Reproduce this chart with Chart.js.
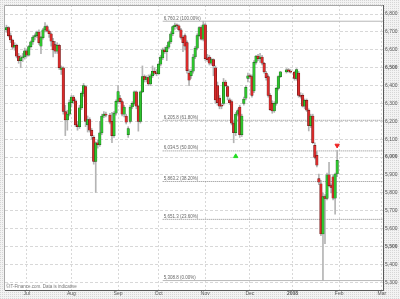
<!DOCTYPE html>
<html>
<head>
<meta charset="utf-8">
<script src="https://cdn.jsdelivr.net/npm/chart.js@4.4.0/dist/chart.umd.min.js"></script>
<style>
  html, body { margin: 0; padding: 0; background: #fff; }
</style>
</head>
<body>
<canvas id="chart" width="400" height="299"></canvas>
<script>
// daily candles, 18 Jun 2007 - 31 Jan 2008
const dates = [
  "2007-06-18","2007-06-19","2007-06-20","2007-06-21","2007-06-22","2007-06-25","2007-06-26","2007-06-27","2007-06-28","2007-06-29",
  "2007-07-02","2007-07-03","2007-07-04","2007-07-05","2007-07-06","2007-07-09","2007-07-10","2007-07-11","2007-07-12","2007-07-13",
  "2007-07-16","2007-07-17","2007-07-18","2007-07-19","2007-07-20","2007-07-23","2007-07-24","2007-07-25","2007-07-26","2007-07-27",
  "2007-07-30","2007-07-31",
  "2007-08-01","2007-08-02","2007-08-03","2007-08-06","2007-08-07","2007-08-08","2007-08-09","2007-08-10","2007-08-13","2007-08-14",
  "2007-08-15","2007-08-16","2007-08-17","2007-08-20","2007-08-21","2007-08-22","2007-08-23","2007-08-24","2007-08-28","2007-08-29",
  "2007-08-30","2007-08-31",
  "2007-09-03","2007-09-04","2007-09-05","2007-09-06","2007-09-07","2007-09-10","2007-09-11","2007-09-12","2007-09-13","2007-09-14",
  "2007-09-17","2007-09-18","2007-09-19","2007-09-20","2007-09-21","2007-09-24","2007-09-25","2007-09-26","2007-09-27","2007-09-28",
  "2007-10-01","2007-10-02","2007-10-03","2007-10-04","2007-10-05","2007-10-08","2007-10-09","2007-10-10","2007-10-11","2007-10-12",
  "2007-10-15","2007-10-16","2007-10-17","2007-10-18","2007-10-19","2007-10-22","2007-10-23","2007-10-24","2007-10-25","2007-10-26",
  "2007-10-29","2007-10-30","2007-10-31",
  "2007-11-01","2007-11-02","2007-11-05","2007-11-06","2007-11-07","2007-11-08","2007-11-09","2007-11-12","2007-11-13","2007-11-14",
  "2007-11-15","2007-11-16","2007-11-19","2007-11-20","2007-11-21","2007-11-22","2007-11-23","2007-11-26","2007-11-27","2007-11-28",
  "2007-11-29","2007-11-30",
  "2007-12-03","2007-12-04","2007-12-05","2007-12-06","2007-12-07","2007-12-10","2007-12-11","2007-12-12","2007-12-13","2007-12-14",
  "2007-12-17","2007-12-18","2007-12-19","2007-12-20","2007-12-21","2007-12-24","2007-12-27","2007-12-28","2007-12-31",
  "2008-01-02","2008-01-03","2008-01-04","2008-01-07","2008-01-08","2008-01-09","2008-01-10","2008-01-11","2008-01-14","2008-01-15",
  "2008-01-16","2008-01-17","2008-01-18","2008-01-21","2008-01-22","2008-01-23","2008-01-24","2008-01-25","2008-01-28","2008-01-29",
  "2008-01-30","2008-01-31"
];

const openV = [
  6712,6725,6680,6655,6615,6625,6565,6540,6555,6560,
  6595,6570,6618,6645,6672,6680,6700,6620,6668,6712,6730,6705,6690,6648,6630,6592,6625,6490,6500,6255,6208,6240,
  6305,6335,6315,6180,6170,6275,6356,6395,6180,6210,6150,6110,5975,6080,6070,6135,6230,6240,6235,6200,6120,6246,
  6312,6330,6310,6240,6230,6125,6200,6280,6300,6365,6285,6200,6365,6450,6435,6445,6410,6455,6480,6470,
  6466,6520,6555,6600,6590,6615,6645,6690,6730,6738,6735,6712,6670,6680,6640,6470,6455,6480,6560,6610,6680,6725,6660,
  6740,6555,6560,6525,6545,6500,6400,6330,6290,6300,6420,6395,6320,6310,6190,6136,6240,6280,6125,6300,6330,6440,
  6455,6450,6370,6530,6565,6550,6560,6525,6470,6450,6345,6300,6258,6300,6384,6450,6477,6488,6480,
  6475,6440,6470,6345,6345,6285,6318,6262,6175,6230,6065,6009,5880,5850,5570,5779,5768,5900,5840,5890,5770,5905
];
const highV = [
  6738,6730,6695,6660,6640,6632,6580,6568,6580,6610,
  6605,6625,6650,6680,6690,6705,6712,6675,6720,6752,6738,6712,6695,6665,6648,6640,6632,6510,6505,6290,6262,6320,
  6345,6345,6325,6200,6290,6365,6412,6400,6230,6220,6160,6120,6085,6095,6200,6240,6255,6252,6245,6250,6255,6320,
  6400,6345,6320,6290,6240,6170,6290,6310,6370,6370,6290,6370,6510,6460,6455,6460,6465,6510,6500,6490,
  6525,6570,6610,6615,6625,6650,6700,6735,6750,6745,6740,6720,6680,6690,6650,6490,6490,6575,6620,6690,6730,6735,6760.2,
  6748,6575,6570,6555,6550,6510,6420,6345,6300,6440,6430,6400,6330,6320,6200,6250,6270,6290,6240,6335,6400,6470,
  6465,6460,6540,6570,6575,6580,6570,6530,6480,6460,6355,6315,6310,6390,6455,6480,6495,6495,6490,
  6480,6495,6480,6360,6355,6325,6325,6270,6240,6240,6080,6030,5905,5870,5800,5790,5910,5970,5850,5900,5910,6037
];
const lowV = [
  6698,6672,6640,6605,6598,6555,6525,6500,6535,6548,
  6560,6565,6610,6630,6655,6670,6630,6578,6660,6700,6700,6670,6620,6560,6580,6580,6490,6462,6240,6120,6150,6230,
  6280,6300,6170,6150,6160,6265,6340,6170,6140,6140,6100,5960,5802,6050,6060,6125,6220,6225,6185,6080,6110,6235,
  6300,6300,6230,6225,6185,6110,6190,6270,6290,6270,6145,6190,6360,6420,6420,6400,6400,6445,6460,6455,
  6460,6510,6545,6580,6540,6605,6635,6680,6715,6720,6705,6660,6590,6600,6470,6400,6440,6470,6550,6600,6675,6655,6650,
  6540,6535,6515,6515,6455,6300,6290,6270,6270,6290,6395,6320,6295,6180,6080,6120,6230,6110,6115,6290,6320,6420,
  6440,6335,6360,6520,6540,6530,6515,6470,6430,6335,6260,6245,6250,6290,6375,6445,6470,6475,6470,
  6430,6430,6335,6330,6280,6270,6255,6146,6165,6075,5990,5945,5845,5560,5308.8,5515,5760,5835,5800,5760,5680,5890
];
const closeV = [
  6725,6680,6655,6615,6625,6565,6540,6555,6560,6595,
  6570,6618,6645,6672,6680,6700,6640,6668,6712,6730,6705,6690,6648,6600,6592,6625,6500,6500,6255,6208,6240,6305,
  6335,6315,6180,6170,6275,6356,6400,6200,6210,6150,6120,5975,6080,6070,6135,6230,6240,6235,6195,6120,6246,6312,
  6367,6310,6240,6280,6195,6160,6280,6300,6365,6285,6200,6365,6450,6435,6445,6410,6455,6480,6470,6466,
  6520,6560,6600,6590,6615,6645,6690,6730,6738,6735,6712,6670,6640,6620,6483,6430,6480,6560,6610,6680,6725,6660,6740,
  6550,6545,6525,6545,6510,6320,6305,6285,6285,6420,6400,6340,6305,6190,6136,6240,6260,6125,6230,6325,6390,6455,
  6450,6345,6530,6565,6550,6560,6525,6477,6445,6345,6265,6258,6300,6384,6450,6477,6488,6480,6475,
  6440,6490,6345,6340,6285,6318,6262,6175,6230,6081,5998,5954,5860,5570,5779,5768,5900,5840,5830,5770,5905,5982
];

// y-axis ticks and month labels
const yTicks = [5300,5400,5500,5600,5700,5800,5900,6000,6100,6200,6300,6400,6500,6600,6700,6800];
const monthStarts = ["2007-07-01","2007-08-01","2007-09-01","2007-10-01","2007-11-01","2007-12-01","2008-01-01","2008-02-01","2008-03-01"];
const monthLabels = ["Jul","Aug","Sep","Oct","Nov","Dec","2008","Feb","Mar"];

// fibonacci retracement drawn from the October high
const fibLevels = [6760.2, 6205.8, 6034.5, 5863.2, 5651.3, 5308.8];
const fibPct = ["100.00%", "61.80%", "50.00%", "38.20%", "23.60%", "0.00%"];
const fibFrom = "2007-10-03";

// signal arrows
const buyDates = ["2007-11-22"];
const buyValues = [6004];
const sellDates = ["2008-01-31"];
const sellValues = [6065];

const FONT = "'Liberation Sans', Arial, sans-serif";
const X_MIN = -0.73, X_MAX = 185.6;

// weekday index from the first candle (the axis skips weekends only)
const base = Date.UTC(2007, 5, 18);
function wd(s) {
  const p = s.split("-").map(Number);
  const t = Date.UTC(p[0], p[1] - 1, p[2]);
  let n = 0;
  for (let u = base; u < t; u += 864e5) {
    const w = new Date(u).getUTCDay();
    if (w > 0 && w < 6) n++;
  }
  return n;
}

const xs = dates.map(wd);
const up = dates.map((d, i) => closeV[i] >= openV[i]);

const wicks = xs.map((x, i) => ({ x: x, y: [lowV[i], highV[i]] }));
const bodies = xs.map((x, i) => ({ x: x, y: [openV[i], closeV[i]] }));

const fibSets = fibLevels.map((v, i) => ({
  type: "line",
  data: [{ x: wd(fibFrom), y: v }, { x: X_MAX, y: v }],
  borderColor: (i === 0 || i === fibLevels.length - 1) ? "#b8b8b8" : "#8a8a8a",
  borderWidth: 1,
  borderDash: (i === 0 || i === fibLevels.length - 1) ? [] : [1, 1],
  pointRadius: 0,
  order: 5
}));

// dotted backdrop round the plot
const pat = document.createElement("canvas");
pat.width = 2; pat.height = 2;
const pg = pat.getContext("2d");
pg.fillStyle = "#f3f3f3"; pg.fillRect(0, 0, 2, 2);
pg.fillStyle = "#d6d6d6"; pg.fillRect(0, 0, 1, 1);

const frame = {
  id: "frame",
  beforeDraw(chart) {
    const { ctx, chartArea: a } = chart;
    ctx.save();
    ctx.fillStyle = ctx.createPattern(pat, "repeat");
    ctx.fillRect(0, 0, chart.width, chart.height);
    ctx.fillStyle = "#fff";
    ctx.fillRect(a.left, a.top, a.right - a.left, a.bottom - a.top);
    ctx.restore();
  },
  afterDatasetsDraw(chart) {
    const { ctx, chartArea: a, scales } = chart;
    ctx.save();
    ctx.strokeStyle = "#a8a8a8";
    ctx.lineWidth = 1;
    ctx.beginPath();
    ctx.moveTo(a.left - 0.5, a.bottom);
    ctx.lineTo(a.left - 0.5, a.top + 0.5);
    ctx.lineTo(a.right, a.top + 0.5);
    ctx.stroke();
    // fib labels
    ctx.font = "4.5px " + FONT;
    ctx.fillStyle = "#666";
    ctx.textBaseline = "bottom";
    const x0 = scales.x.getPixelForValue(wd(fibFrom)) + 1;
    fibLevels.forEach((v, i) => {
      const y = scales.y.getPixelForValue(v);
      const txt = v.toLocaleString("en-US", { minimumFractionDigits: 1, maximumFractionDigits: 1 }) + " (" + fibPct[i] + ")";
      ctx.fillText(txt, x0, y - 0.5);
    });
    // source note
    ctx.fillStyle = "#777";
    ctx.fillText("\u00a9IT-Finance.com. Data is indicative", a.left + 1, a.bottom - 0.5);
    ctx.restore();
  }
};

new Chart(document.getElementById("chart"), {
  type: "bar",
  data: {
    datasets: [
      {
        data: wicks,
        backgroundColor: "#b4b4b4",
        barThickness: 1,
        grouped: false,
        order: 3
      },
      {
        data: bodies,
        backgroundColor: up.map(u => u ? "#2ec42e" : "#d92b2b"),
        borderColor: up.map(u => u ? "#145a14" : "#5a1010"),
        borderWidth: 0.5,
        borderSkipped: false,
        barThickness: 2.5,
        minBarLength: 1,
        grouped: false,
        order: 2
      },
      ...fibSets,
      {
        type: "scatter",
        data: buyDates.map((d, i) => ({ x: wd(d), y: buyValues[i] })),
        pointStyle: "triangle",
        pointRadius: 2.5,
        backgroundColor: "#22dd22",
        borderColor: "#22dd22",
        borderWidth: 1,
        order: 1
      },
      {
        type: "scatter",
        data: sellDates.map((d, i) => ({ x: wd(d), y: sellValues[i] })),
        pointStyle: "triangle",
        rotation: 180,
        pointRadius: 2.5,
        backgroundColor: "#ee2222",
        borderColor: "#ee2222",
        borderWidth: 1,
        order: 1
      }
    ]
  },
  options: {
    responsive: false,
    animation: false,
    layout: { padding: { left: 2, top: 0, right: 0, bottom: 0 } },
    plugins: { legend: { display: false }, tooltip: { enabled: false } },
    scales: {
      x: {
        type: "linear",
        min: X_MIN,
        max: X_MAX,
        offset: false,
        afterBuildTicks: s => { s.ticks = monthStarts.map(d => ({ value: wd(d) })); },
        afterFit: s => { s.height = 9; },
        ticks: {
          autoSkip: false,
          maxRotation: 0,
          padding: 1,
          color: "#555",
          font: ctx => ({ family: FONT, size: 5, weight: ctx.index === 6 ? "bold" : "normal" }),
          callback: (v, i) => monthLabels[i]
        },
        grid: { color: "#d8d8d8", drawTicks: false, offset: false },
        border: { color: "#5a5a5a", width: 1, dash: [2, 2] }
      },
      y: {
        position: "right",
        min: 5256,
        max: 6851,
        afterBuildTicks: s => { s.ticks = yTicks.map(v => ({ value: v })); },
        afterFit: s => { s.width = 17; },
        ticks: {
          padding: 2,
          color: "#555",
          font: ctx => ({ family: FONT, size: 5, weight: ctx.tick && ctx.tick.value % 500 === 0 ? "bold" : "normal" }),
          callback: v => v.toLocaleString("en-US")
        },
        grid: { color: "#d8d8d8", drawTicks: false },
        border: { color: "#5a5a5a", width: 1, dash: [3, 2] }
      }
    }
  },
  plugins: [frame]
});
</script>
</body>
</html>
